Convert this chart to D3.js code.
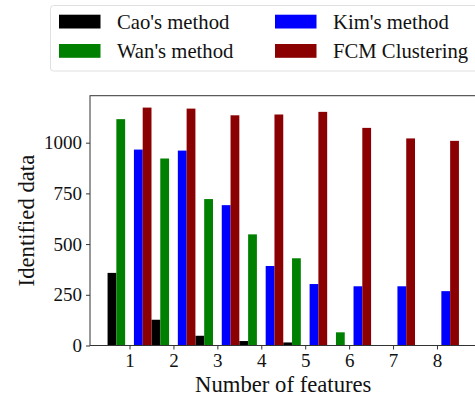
<!DOCTYPE html>
<html>
<head>
<meta charset="utf-8">
<script src="https://cdn.jsdelivr.net/npm/d3@7"></script>
<style>
  body { margin: 0; background: #fff; }
  svg { display: block; font-family: "Liberation Serif", "Times New Roman", serif; }
</style>
</head>
<body>
<div id="bar-vis"></div>
<script>
var features = [1, 2, 3, 4, 5, 6, 7, 8];
var methods = ["Cao's method", "Wan's method", "Kim's method", "FCM Clustering"];
var caoValues = [358, 127, 48, 22, 15, 0, 0, 0];
var wanValues = [1116, 922, 722, 548, 430, 65, 0, 0];
var kimValues = [966, 961, 692, 392, 303, 292, 292, 268];
var fcmValues = [1173, 1168, 1135, 1139, 1152, 1073, 1021, 1009];
var yTicks = [0, 250, 500, 750, 1000];

FeatureBarVis = function(_parentElement) {
  this.parentElement = _parentElement;
  this.series = [caoValues, wanValues, kimValues, fcmValues];
  this.initVis();
  this.updateVis();
};

FeatureBarVis.prototype.initVis = function() {
  var vis = this;

  vis.width = 475;
  vis.height = 399;
  vis.plot = { left: 90, right: 476.5, top: 95.7, bottom: 345.5 };
  vis.barWidth = 0.2;
  vis.offsets = [-0.4, -0.2, 0.2, 0.4];

  vis.svg = d3.select("#" + vis.parentElement).append("svg")
    .attr("width", vis.width)
    .attr("height", vis.height);

  // matplotlib style autoscale: 5% margin on x, 5% headroom on y
  vis.xScale = d3.scaleLinear()
    .domain([0.1, 8.9])
    .range([vis.plot.left, vis.plot.right]);

  vis.yScale = d3.scaleLinear()
    .domain([0, d3.max(fcmValues) * 1.05])
    .range([vis.plot.bottom, vis.plot.top]);

  vis.color = d3.scaleOrdinal()
    .domain([0, 1, 2, 3])
    .range(['#000000', '#008000', '#0000ff', '#8b0000']);

  vis.xAxis = d3.axisBottom(vis.xScale)
    .tickValues(features)
    .tickSize(4)
    .tickPadding(4)
    .tickFormat(d3.format("d"));

  vis.yAxis = d3.axisLeft(vis.yScale)
    .tickValues(yTicks)
    .tickSize(4)
    .tickPadding(4)
    .tickFormat(d3.format("d"));
};

FeatureBarVis.prototype.updateVis = function() {
  var vis = this;

  vis.series.forEach((values, idx) => {
    vis.svg.selectAll(".bar" + idx)
      .data(values)
      .enter()
      .append("rect")
      .attr("class", "bar" + idx)
      .attr("x", (d, i) => vis.xScale(features[i] + vis.offsets[idx] - vis.barWidth / 2))
      .attr("width", vis.xScale(vis.barWidth) - vis.xScale(0))
      .attr("y", (d) => vis.yScale(d))
      .attr("height", (d) => vis.yScale(0) - vis.yScale(d))
      .attr("fill", vis.color(idx));
  });

  var xg = vis.svg.append("g")
    .attr("class", "x-axis axis")
    .attr("transform", "translate(0," + vis.plot.bottom + ")")
    .call(vis.xAxis);

  var yg = vis.svg.append("g")
    .attr("class", "y-axis axis")
    .attr("transform", "translate(" + vis.plot.left + ",0)")
    .call(vis.yAxis);

  [xg, yg].forEach((g) => {
    g.select(".domain").remove();
    g.selectAll(".tick line").attr("stroke", "#333");
    g.selectAll(".tick text")
      .attr("fill", "#111")
      .style("font-family", "'Liberation Serif', serif")
      .style("font-size", "19px");
  });

  // axes frame
  vis.svg.append("rect")
    .attr("x", vis.plot.left)
    .attr("y", vis.plot.top)
    .attr("width", vis.plot.right - vis.plot.left)
    .attr("height", vis.plot.bottom - vis.plot.top)
    .attr("fill", "none")
    .attr("stroke", "#333")
    .attr("stroke-width", 1);

  vis.svg.append("text")
    .text("Number of features")
    .attr("x", (vis.plot.left + vis.plot.right) / 2)
    .attr("y", 391.5)
    .style("text-anchor", "middle")
    .style("font-size", "22.7px")
    .attr("fill", "#111");

  vis.svg.append("text")
    .text("Identified data")
    .attr("transform", "rotate(-90)")
    .attr("x", -(vis.plot.top + vis.plot.bottom) / 2)
    .attr("y", 34)
    .style("text-anchor", "middle")
    .style("font-size", "22.7px")
    .attr("fill", "#111");

  vis.drawLegend();
};

FeatureBarVis.prototype.drawLegend = function() {
  var vis = this;

  vis.svg.append("rect")
    .attr("x", 50.5)
    .attr("y", 5.5)
    .attr("width", 440)
    .attr("height", 65.5)
    .attr("rx", 3)
    .attr("fill", "#fff")
    .attr("stroke", "#e0e0e0")
    .attr("stroke-width", 1);

  var colX = [59, 275];
  var rowY = [14.7, 44];

  var items = vis.svg.selectAll(".legendItem")
    .data(methods)
    .enter()
    .append("g")
    .attr("class", "legendItem")
    .attr("transform", (d, i) => "translate(" + colX[Math.floor(i / 2)] + "," + rowY[i % 2] + ")");

  items.append("rect")
    .attr("width", 41.5)
    .attr("height", 13.8)
    .attr("fill", (d, i) => vis.color(i));

  items.append("text")
    .text((d) => d)
    .attr("x", 58)
    .attr("y", 14)
    .style("font-size", "20.7px")
    .attr("fill", "#111");
};

var featureVis = new FeatureBarVis("bar-vis");
</script>
</body>
</html>
